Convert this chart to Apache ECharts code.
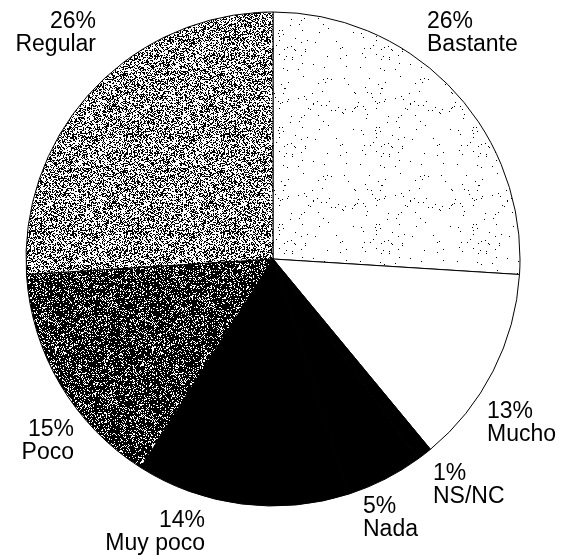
<!DOCTYPE html>
<html>
<head>
<meta charset="utf-8">
<script src="https://cdn.jsdelivr.net/npm/echarts@6/dist/echarts.min.js"></script>
<style>
  html, body { margin: 0; padding: 0; background: #fff; }
  #pie { width: 562px; height: 559px; }
</style>
</head>
<body>
<div id="pie"></div>
<script>
// datos
var categorias = ['Bastante', 'Mucho', 'NS/NC', 'Nada', 'Muy poco', 'Poco', 'Regular'];
var porcentajes = [26, 13, 1, 5, 14, 15, 26];

// donde van las etiquetas (x, y, alineacion)
var posEtiquetas = [
    [427, 33, 'left'],
    [487, 423, 'left'],
    [433, 485, 'left'],
    [363, 518, 'left'],
    [205, 532, 'right'],
    [74, 441, 'right'],
    [96, 33, 'right']
];

// textura punteada tipo fotocopia (pseudo aleatorio fijo)
function punteado(densidad, fondo, punto, semilla) {
    var c = document.createElement('canvas');
    c.width = 97; c.height = 97;
    var ctx = c.getContext('2d');
    ctx.fillStyle = fondo;
    ctx.fillRect(0, 0, c.width, c.height);
    ctx.fillStyle = punto;
    var s = semilla;
    for (var y = 0; y < c.height; y++) {
        for (var x = 0; x < c.width; x++) {
            s = (s * 1103515245 + 12345) % 2147483648;
            if (s / 2147483648 < densidad) ctx.fillRect(x, y, 1, 1);
        }
    }
    return { image: c, repeat: 'repeat' };
}

var rellenos = [
    punteado(0.012, '#ffffff', '#000000', 7),   // Bastante
    '#ffffff',                                  // Mucho
    '#000000',                                  // NS/NC
    '#000000',                                  // Nada
    '#000000',                                  // Muy poco
    punteado(0.22, '#000000', '#ffffff', 11),   // Poco
    punteado(0.42, '#ffffff', '#000000', 3)     // Regular
];

var datos = categorias.map(function (nombre, i) {
    return { name: nombre, value: porcentajes[i], itemStyle: { color: rellenos[i] } };
});

var grafico = echarts.init(document.getElementById('pie'));
grafico.setOption({
    animation: false,
    backgroundColor: '#fff',
    series: [
        {
            type: 'pie',
            center: [273, 259],
            radius: 247,
            startAngle: 90,
            clockwise: true,
            avoidLabelOverlap: false,
            itemStyle: {
                borderColor: '#000',
                borderWidth: 1
            },
            label: {
                show: true,
                position: 'outside',
                formatter: '{c}%\n{b}',
                color: '#000',
                fontFamily: 'Liberation Sans',
                fontSize: 23,
                lineHeight: 23
            },
            labelLine: { show: false },
            labelLayout: function (p) {
                var pos = posEtiquetas[p.dataIndex];
                return { x: pos[0], y: pos[1], align: pos[2], verticalAlign: 'middle' };
            },
            data: datos
        }
    ]
});
</script>
</body>
</html>
